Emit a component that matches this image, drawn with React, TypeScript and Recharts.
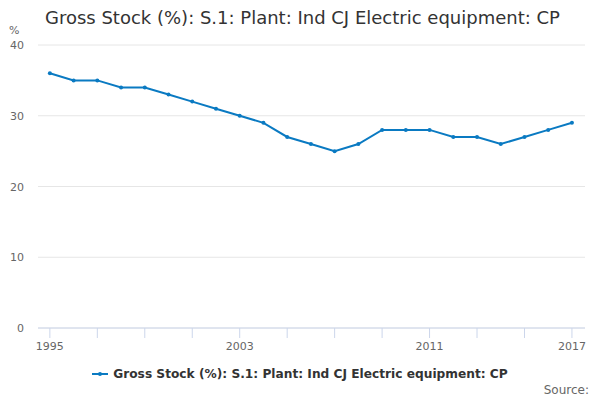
import React from "react";
import { LineChart, Line, XAxis, YAxis, CartesianGrid } from "recharts";

const years = [1995, 1996, 1997, 1998, 1999, 2000, 2001, 2002, 2003, 2004, 2005, 2006, 2007, 2008, 2009, 2010, 2011, 2012, 2013, 2014, 2015, 2016, 2017];
const values = [36, 35, 35, 34, 34, 33, 32, 31, 30, 29, 27, 26, 25, 26, 28, 28, 28, 27, 27, 26, 27, 28, 29];
const xTicks = [1995, 1997, 1999, 2001, 2003, 2005, 2007, 2009, 2011, 2013, 2015, 2017];
const xLabels = [1995, 2003, 2011, 2017];
const yTicks = [0, 10, 20, 30, 40];
const seriesName = "Gross Stock (%): S.1: Plant: Ind CJ Electric equipment: CP";
const title = "Gross Stock (%): S.1: Plant: Ind CJ Electric equipment: CP";

const data = years.map((y, i) => ({ year: y, value: values[i] }));
const FONT = "'DejaVu Sans', sans-serif";
const BLUE = "#0a7ac2";

const XTick = (props: any) => {
  const { x, y, payload } = props;
  const show = xLabels.includes(payload.value);
  return (
    <g>
      <line x1={x} x2={x} y1={y - 8} y2={y + 2} stroke="#ccd6eb" strokeWidth={1} />
      {show && (
        <text x={x} y={y + 14} textAnchor="middle" fontSize={11} fill="#666" fontFamily={FONT}>
          {payload.value}
        </text>
      )}
    </g>
  );
};

const YTick = (props: any) => {
  const { y, payload } = props;
  return (
    <text x={24} y={y + 4} textAnchor="end" fontSize={11} fill="#666" fontFamily={FONT}>
      {payload.value}
    </text>
  );
};

export default function App() {
  return (
    <div style={{ position: "absolute", left: 0, top: 0, width: 600, height: 400, background: "#fff" }}>
      <div style={{ position: "absolute", left: 45, top: 7, fontFamily: FONT, fontSize: 18, color: "#333", whiteSpace: "nowrap" }}>
        {title}
      </div>
      <div style={{ position: "absolute", left: 9, top: 24, fontFamily: FONT, fontSize: 11, color: "#666" }}>%</div>
      <LineChart width={600} height={400} data={data} margin={{ top: 45, right: 15, left: 0, bottom: 42 }}>
        <CartesianGrid vertical={false} stroke="#e6e6e6" />
        <XAxis
          dataKey="year"
          type="number"
          domain={[1994.5, 2017.55]}
          ticks={xTicks}
          tick={<XTick />}
          tickLine={false}
          axisLine={{ stroke: "#ccd6eb" }}
          height={30}
          interval={0}
        />
        <YAxis
          domain={[0, 40]}
          ticks={yTicks}
          tick={<YTick />}
          axisLine={false}
          tickLine={false}
          width={38}
        />
        <Line
          type="linear"
          dataKey="value"
          name={seriesName}
          stroke={BLUE}
          strokeWidth={2}
          dot={{ r: 2, fill: BLUE, stroke: BLUE, strokeWidth: 0 }}
          activeDot={false}
          isAnimationActive={false}
        />
      </LineChart>
      <div style={{ position: "absolute", left: 0, width: 600, top: 367, display: "flex", justifyContent: "center", alignItems: "center", fontFamily: FONT, fontSize: 12.2, fontWeight: "bold", color: "#333" }}>
        <svg width={16} height={10} style={{ marginRight: 5 }}>
          <line x1={0} x2={16} y1={5} y2={5} stroke={BLUE} strokeWidth={2} />
          <circle cx={8} cy={5} r={2} fill={BLUE} />
        </svg>
        <span>{seriesName}</span>
      </div>
      <div style={{ position: "absolute", right: 11, top: 383, fontFamily: FONT, fontSize: 12, color: "#666" }}>Source:</div>
    </div>
  );
}
